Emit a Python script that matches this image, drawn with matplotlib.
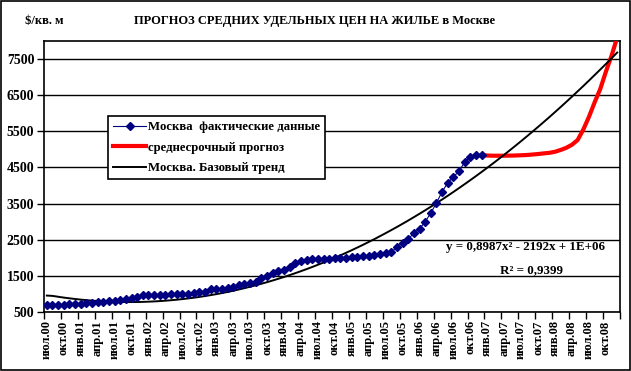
import matplotlib.pyplot as plt
from matplotlib.patches import Rectangle

plt.rcParams['font.family'] = ['Liberation Serif', 'DejaVu Serif']
plt.rcParams['font.weight'] = 'bold'

# months Jul 2000 .. Dec 2008
month_names = ["янв", "фев", "мар", "апр", "май", "июн",
               "июл", "авг", "сен", "окт", "ноя", "дек"]
n_months = 102

# Moscow actual data, Jul 2000 .. Dec 2006
actual = [685, 685, 694, 705, 720, 730, 735, 745, 755, 765,
          778, 806, 806, 833, 861, 898, 926, 965, 970, 970,
          972, 981, 1000, 1000, 1000, 1009, 1019, 1046, 1065, 1130,
          1130, 1148, 1176, 1204, 1241, 1269, 1296, 1343, 1440, 1505,
          1570, 1635, 1670, 1740, 1845, 1910, 1950, 1970, 1975, 1975,
          1980, 1985, 1990, 2000, 2010, 2025, 2040, 2055, 2075, 2095,
          2120, 2150, 2310, 2405, 2520, 2680, 2800, 3000, 3240, 3520,
          3830, 4075, 4240, 4400, 4650, 4790, 4840, 4840]

# medium-term forecast, Dec 2006 .. Dec 2008
forecast_start = 77
forecast = [4840, 4830, 4825, 4825, 4825, 4828, 4832, 4838, 4845, 4858,
            4872, 4890, 4905, 4935, 4985, 5045, 5130, 5260, 5550, 5900,
            6300, 6670, 7150, 7590, 8100]

# base trend
trend = [955, 946, 922, 899, 879, 860, 843, 828, 815, 804,
         795, 787, 781, 777, 775, 775, 777, 780, 786, 793,
         802, 813, 826, 840, 857, 875, 895, 917, 941, 967,
         994, 1024, 1055, 1088, 1123, 1160, 1199, 1239, 1282, 1326,
         1372, 1420, 1469, 1521, 1575, 1630, 1687, 1746, 1807, 1870,
         1934, 2001, 2069, 2139, 2211, 2285, 2360, 2438, 2517, 2599,
         2682, 2767, 2853, 2942, 3032, 3125, 3219, 3315, 3413, 3512,
         3614, 3717, 3823, 3930, 4039, 4150, 4262, 4377, 4493, 4611,
         4731, 4853, 4977, 5103, 5230, 5360, 5491, 5624, 5759, 5895,
         6034, 6174, 6317, 6461, 6607, 6754, 6904, 7056, 7209, 7364,
         7521, 7680]

y_ticks = [500, 1500, 2500, 3500, 4500, 5500, 6500, 7500]

labels = []
for i in range(n_months):
    m = (6 + i) % 12
    yr = (2000 + (6 + i) // 12) % 100
    labels.append(f"{month_names[m]}.{yr:02d}")

fig = plt.figure(figsize=(6.31, 3.71), dpi=100)
fig.patches.append(Rectangle((0.001, 0.002), 0.997, 0.995, transform=fig.transFigure,
                             fill=False, edgecolor='black', linewidth=1.2))
ax = fig.add_axes([44 / 631, 59 / 371, 576 / 631, 271 / 371])

x_act = list(range(len(actual)))
x_fc = list(range(forecast_start, forecast_start + len(forecast)))
x_tr = list(range(len(trend)))

ax.plot(x_act, actual, color='#000080', linewidth=0.8, marker='D', markersize=4.3,
        markerfacecolor='#000080', markeredgecolor='#000080',
        label='Москва  фактические данные', zorder=4)
ax.plot(x_fc, forecast, color='#ff0000', linewidth=3, label='среднесрочный прогноз', zorder=3)
ax.plot(x_tr, trend, color='black', linewidth=1.4, label='Москва. Базовый тренд', zorder=3)

ax.set_xlim(-0.5, n_months - 0.5)
ax.set_ylim(500, 8000)
ax.set_yticks(y_ticks)
ax.set_yticklabels([str(v) for v in y_ticks], fontsize=10, fontweight='bold')
ax.yaxis.grid(True, color='black', linewidth=1)
ax.set_axisbelow(True)

pos = list(range(0, 100, 3))
ax.set_xticks(pos)
ax.set_xticklabels([labels[i] for i in pos], rotation=90, fontsize=9, fontweight='bold')
ax.set_xticks([p - 0.5 for p in range(0, n_months + 1, 3)], minor=True)
ax.tick_params(axis='x', which='major', length=0, pad=6)
ax.tick_params(axis='x', which='minor', length=5, width=1, direction='out')
ax.tick_params(axis='y', length=5, width=1, direction='out', pad=2)
for s in ax.spines.values():
    s.set_linewidth(1.2)

leg = ax.legend(loc='upper left', bbox_to_anchor=(0.111, 0.722), fontsize=9.2,
                frameon=True, fancybox=False, handlelength=2.6, handletextpad=0.1,
                borderpad=0.4, labelspacing=0.65, borderaxespad=0)
leg.get_frame().set_edgecolor('black')
leg.get_frame().set_linewidth(1.2)
leg.get_frame().set_alpha(1)
for t in leg.get_texts():
    t.set_fontweight('bold')

fig.text(44 / 631, 1 - 21 / 371, "$/кв. м", fontsize=9, fontweight='bold',
         ha='center', va='center')
fig.text(315 / 631, 1 - 21 / 371, "ПРОГНОЗ СРЕДНИХ УДЕЛЬНЫХ ЦЕН НА ЖИЛЬЕ в Москве",
         fontsize=9, fontweight='bold', ha='center', va='center')
fig.text(525 / 631, 1 - 247 / 371, "y = 0,8987x² - 2192x + 1E+06", fontsize=9.4,
         fontweight='bold', ha='center', va='center')
fig.text(531 / 631, 1 - 270 / 371, "R² = 0,9399", fontsize=9.4,
         fontweight='bold', ha='center', va='center')

fig.savefig("out.png", dpi=100)
